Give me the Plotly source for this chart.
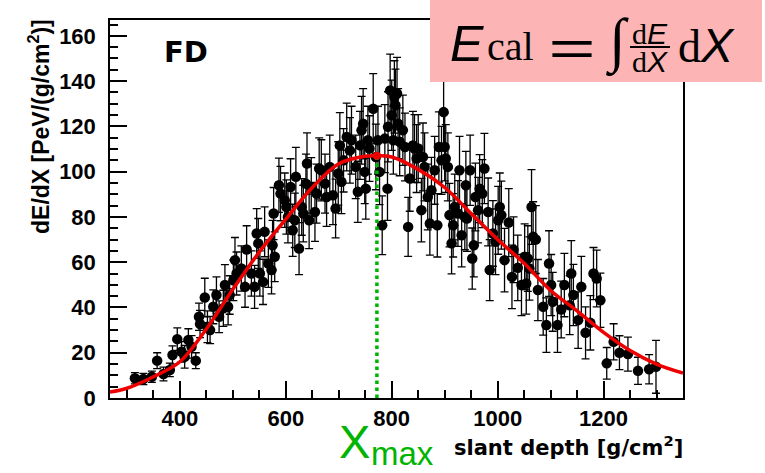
import plotly.graph_objects as go

# Longitudinal profile measured by the fluorescence detector (FD)
depth = [315, 331, 347, 357, 369, 381, 386, 395, 403, 409, 416, 422, 430, 436, 438,
         447, 452, 457, 463, 469, 474, 482, 485, 491, 494, 501, 504, 507, 516, 523,
         526, 535, 541, 545, 548, 551, 557, 560, 567, 573, 575, 577, 579, 587, 590,
         598, 601, 604, 609, 613, 617, 619, 625, 630, 633, 638, 640, 644, 648, 655,
         658, 663, 667, 674, 677, 683, 689, 694, 699, 702, 705, 709, 715, 721, 724,
         732, 736, 740, 743, 746, 749, 751, 755, 758, 765, 770, 774, 777, 782, 787,
         792, 793, 797, 800, 803, 805, 807, 810, 812, 815, 821, 825, 831, 834, 840,
         843, 847, 850, 856, 859, 862, 868, 872, 875, 881, 886, 889, 894, 898, 900,
         902, 906, 909, 913, 916, 919, 925, 928, 932, 938, 940, 942, 948, 952, 955,
         958, 963, 966, 971, 975, 982, 985, 991, 996, 1001, 1004, 1007, 1013, 1021, 1027,
         1030, 1038, 1045, 1051, 1054, 1057, 1060, 1064, 1067, 1072, 1076, 1086, 1092, 1097, 1101,
         1104, 1113, 1120, 1126, 1136, 1139, 1143, 1152, 1158, 1166, 1175, 1181, 1187, 1194, 1206,
         1219, 1230, 1246, 1265, 1286, 1299]

dedx = [8.7, 8.4, 9.4, 16.5, 10.6, 12.4, 19.0, 26.0, 20.4, 18.2, 25.6, 22.6, 16.5, 35.9, 32.7,
        44.4, 31.5, 30.0, 40.3, 45.5, 35.9, 39.6, 49.9, 40.3, 45.5, 52.0, 60.9, 55.0, 57.2, 49.1,
        65.6, 55.0, 49.1, 72.7, 68.3, 55.0, 51.3, 73.4, 59.4, 56.5, 67.5, 81.5, 62.4, 94.0, 90.3,
        87.4, 84.4, 80.0, 93.2, 74.1, 78.5, 97.7, 66.0, 84.4, 81.5, 94.7, 103.6, 78.5, 93.2, 82.2,
        90.3, 101.4, 100.6, 94.7, 88.8, 102.1, 89.6, 83.7, 99.2, 111.6, 95.5, 105.0, 115.3, 109.4, 113.9,
        102.1, 91.1, 111.6, 118.3, 121.2, 99.9, 92.5, 113.9, 110.2, 127.8, 106.5, 113.9, 99.9, 76.3, 114.6,
        92.5, 119.8, 135.9, 124.9, 113.9, 133.0, 129.3, 134.5, 121.2, 113.2, 118.3, 110.9, 75.6, 97.0, 111.6,
        110.2, 105.8, 110.2, 83.0, 106.5, 102.1, 88.8, 77.1, 91.8, 100.6, 76.3, 110.9, 105.0, 126.3, 110.9,
        105.8, 102.1, 80.8, 68.3, 76.3, 84.4, 81.5, 100.6, 71.9, 80.0, 94.0, 79.3, 100.6, 61.6, 67.5,
        88.8, 83.0, 92.5, 90.3, 101.4, 82.2, 56.5, 72.7, 69.0, 78.5, 84.4, 80.8, 60.9, 77.5, 53.5,
        65.5, 57.5, 49.9, 62.4, 50.6, 61.6, 57.2, 84.4, 71.2, 70.0, 47.7, 40.3, 32.2, 59.4, 49.9,
        42.5, 32.2, 39.1, 49.9, 41.0, 55.0, 45.5, 34.4, 49.1, 28.8, 33.2, 55.0, 52.8, 43.2, 15.3,
        24.8, 20.0, 19.4, 12.0, 12.7, 13.8]

dedx_err = [2.5, 2.5, 2.5, 3.5, 3.0, 3.0, 4.0, 5.0, 4.5, 5.0, 5.0, 5.0, 3.5, 6.0, 6.0,
            8.5, 7.0, 6.0, 7.5, 8.0, 7.0, 8.0, 9.0, 8.0, 8.5, 9.0, 10.0, 9.5, 10.0, 9.0,
            10.5, 10.0, 9.5, 11.0, 11.0, 10.0, 10.0, 11.0, 10.5, 10.5, 11.0, 11.5, 11.0, 12.0, 12.0,
            12.0, 12.0, 11.5, 12.5, 11.5, 12.0, 13.0, 11.5, 12.5, 12.5, 13.0, 13.5, 12.5, 13.0, 13.0,
            13.0, 13.5, 13.5, 13.0, 13.0, 14.0, 13.0, 13.0, 14.0, 14.5, 14.0, 14.0, 15.0, 14.5, 15.0,
            14.0, 13.5, 15.0, 15.0, 15.5, 14.0, 13.5, 15.0, 14.5, 15.5, 14.5, 15.0, 14.5, 13.0, 15.0,
            14.0, 15.5, 16.0, 15.5, 15.0, 16.0, 16.0, 16.0, 15.5, 15.0, 15.5, 15.0, 13.0, 14.5, 15.0,
            15.0, 15.0, 15.0, 14.0, 15.0, 15.0, 14.5, 14.0, 14.5, 15.0, 14.0, 15.5, 15.0, 14.0, 15.0,
            15.0, 15.0, 14.0, 13.5, 14.0, 14.5, 14.5, 15.0, 14.0, 14.5, 15.0, 14.5, 15.5, 13.5, 14.0,
            15.0, 14.5, 15.0, 15.0, 15.5, 15.0, 13.5, 14.5, 14.5, 15.0, 15.0, 15.0, 14.0, 15.0, 14.0,
            14.5, 14.5, 13.5, 14.5, 13.5, 14.5, 14.0, 16.5, 15.5, 15.0, 13.5, 12.5, 12.0, 14.5, 13.5,
            13.0, 12.0, 12.5, 14.0, 13.0, 14.5, 13.5, 12.5, 13.5, 11.5, 12.0, 11.5, 12.5, 12.0, 7.0,
            8.0, 7.5, 7.5, 6.0, 6.5, 11.7]

# Gaisser-Hillas fit, sampled along the curve
fit_depth = [268, 300, 350, 400, 450, 500, 550, 600, 650, 700, 750, 772,
             800, 850, 900, 950, 1000, 1050, 1100, 1150, 1200, 1250, 1300, 1350]
fit_dedx = [2.6, 4.3, 9.4, 16.0, 30.5, 48.0, 64.5, 79.0, 93.0, 103.5, 106.8, 107.0,
            106.5, 101.0, 93.0, 81.5, 70.0, 59.5, 47.5, 38.5, 29.0, 21.0, 15.0, 11.0]

xmax_depth = 772
xmax_dedx = 107.0

X_RANGE = [268, 1350]
Y_RANGE = [0, 167]

# plot-area geometry in pixels (for placing the free annotations)
L, R, T, B = 110, 683, 20, 398
W, H = 765, 473


def pp(px, py):
    """pixel position -> paper coordinates"""
    return (px - L) / (R - L), (B - py) / (B - T)


fig = go.Figure()

fig.add_trace(go.Scatter(
    x=depth, y=dedx, mode="markers",
    marker=dict(color="black", size=10.5),
    error_y=dict(type="data", array=dedx_err, visible=True,
                 color="black", thickness=1.3, width=4),
    showlegend=False, cliponaxis=True,
))

fig.add_trace(go.Scatter(
    x=fit_depth, y=fit_dedx, mode="lines",
    line=dict(color="#ee0000", width=3.5, shape="spline", smoothing=1.0),
    showlegend=False,
))

fig.add_trace(go.Scatter(
    x=[xmax_depth, xmax_depth], y=[0, xmax_dedx], mode="lines",
    line=dict(color="#00b400", width=3.5, dash="dot"),
    showlegend=False,
))

fig.add_trace(go.Scatter(
    x=[xmax_depth], y=[xmax_dedx], mode="markers",
    marker=dict(color="#ee0000", size=8),
    showlegend=False,
))

axis_common = dict(
    showline=True, linecolor="black", linewidth=1.5, mirror=True,
    showgrid=False, zeroline=False,
    ticks="inside", ticklen=17, tickwidth=1.5, tickcolor="black",
    tickfont=dict(family="Liberation Sans", size=22, color="black", weight="bold"),
)

fig.update_xaxes(range=X_RANGE, tick0=0, dtick=200,
                 minor=dict(ticks="inside", ticklen=8, dtick=50, tickwidth=1.5,
                            tickcolor="black", showgrid=False),
                 ticklabelstandoff=0, **axis_common)
fig.update_yaxes(range=Y_RANGE, tick0=0, dtick=20,
                 minor=dict(ticks="inside", ticklen=8, dtick=5, tickwidth=1.5,
                            tickcolor="black", showgrid=False),
                 ticklabelstandoff=8, **axis_common)

annotations = []


def add_text(text, px, py, size, family, color="black", xanchor="left",
             yanchor="middle", angle=0, weight="normal", style="normal"):
    x, y = pp(px, py)
    annotations.append(dict(
        text=text, x=x, y=y, xref="paper", yref="paper",
        xanchor=xanchor, yanchor=yanchor, showarrow=False, textangle=angle,
        borderpad=0,
        font=dict(family=family, size=size, color=color, weight=weight, style=style),
    ))


# labels inside / around the frame
add_text("FD", 163, 52, 29, "DejaVu Sans", weight="bold")
add_text("dE/dX [PeV/(g/cm<sup>2</sup>)]", 39, 127, 23, "Liberation Sans",
         xanchor="center", angle=-90, weight="bold")
add_text("slant depth [g/cm<sup>2</sup>]", 684, 446, 21, "DejaVu Sans",
         xanchor="right", weight="bold")
add_text("X", 338, 441, 47, "Liberation Sans", color="#00b400")
add_text("max", 370, 453, 33, "Liberation Sans", color="#00b400")

# calorimetric energy formula
add_text("E", 449, 44, 50, "Liberation Sans", style="italic")
add_text("cal", 486, 46, 40, "Liberation Serif")
add_text("\uff1d", 572, 47, 54, "Noto Sans CJK SC", xanchor="center")
add_text("\u222b", 605, 42, 60, "Liberation Serif")
add_text("d<span style='font-family:Liberation Sans;font-style:italic'>E</span>",
         650, 33, 30, "Liberation Serif", xanchor="center")
add_text("d<span style='font-family:Liberation Sans;font-style:italic'>X</span>",
         650, 61, 30, "Liberation Serif", xanchor="center")
add_text("d", 677, 46, 46, "Liberation Serif")
add_text("X", 699, 45, 48, "Liberation Sans", style="italic")

bx0, by0 = pp(430, 0)
bx1, by1 = pp(762, 82)
fx0, fy = pp(630, 47)
fx1, _ = pp(670, 47)

fig.update_layout(
    width=W, height=H,
    margin=dict(l=L, r=W - R, t=T, b=H - B),
    paper_bgcolor="white", plot_bgcolor="white",
    annotations=annotations,
    shapes=[
        dict(type="rect", xref="paper", yref="paper", x0=bx0, x1=bx1, y0=by1, y1=by0,
             fillcolor="#fcb4b4", line=dict(width=0), layer="above"),
        dict(type="line", xref="paper", yref="paper", x0=fx0, x1=fx1, y0=fy, y1=fy,
             line=dict(color="black", width=1.8), layer="above"),
    ],
)

fig.write_html("out.html")
